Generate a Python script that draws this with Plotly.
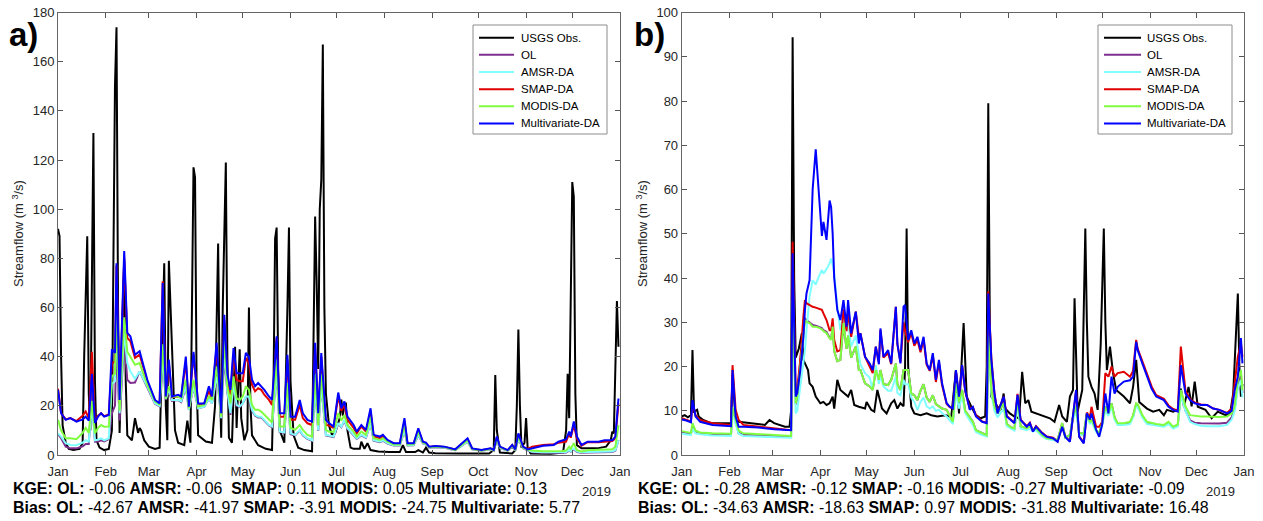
import pandas as pd
import plotly.graph_objects as go

# ---------------- Panel a data (day offsets from 2018-01-01) ----------------
obs_a_days = [0,1,2,3,5,7,10,14,16,17, 19,20,21,22,23,24,25,27,30,33,
              35,36,37,38,39,40,41,43,44,45, 48,50,52,53,54,56,59,63,66,67,
              69,70,71,72,74,76,78,82,84,86, 87,88,89,90,91,96,100,102,104,105,
              106,107,109,110,111,113,115,116,118,119, 121,123,124,125,126,130,135,139,140,141,
              142,143,144,147,149,150,151,153,156,160, 165,166,167,168,169,170,171,172,173,174,
              176,178,180,183,184,185,186,187,188,190, 192,196,197,199,201,203,208,215,222,224,
              226,232,234,237,239,241,245,260,280,283, 284,285,287,295,297,298,299,300,301,303,
              304,305,307,320,328,330,331,332,333,334, 335,336,337,340,350,356,359,360,361,362,
              363,364]
obs_a = [92,89,40,12,5,2.5,2,2.5,5,40, 89,25,10,60,131,30,6,3,2,2.5,
         10,80,150,174,60,9,30,79,30,8, 6,15,9,11,10,6,3.4,2.5,3,30,
         78,20,6,79,40,10,5,4,14,5, 60,117,113,30,8,5.5,5,20,86,30,
         7,60,119,40,7,5,44,11,43,15, 6,10,60,20,8,4,2.5,2,30,88,
         92.5,35,10,5,60,92.5,30,8,3,2, 1.5,40,97,70,35,100,112,167,60,25,
         12,8,9,15,22.5,16,21,21,10,3, 2.5,2.5,5.4,2.5,4.8,2,1.4,1.2,1.2,4,
         1.2,1.2,2,1,3,1,0.7,0.6,0.6,2, 32.5,10,1,0.6,2,20,51,20,3,5,
         15,3,0.6,0.5,1,10,33,15,60,111, 105,25,4,2.7,2.7,3.4,6,9.5,8.8,35,
         62.6,44]

sim_a_days = [0,2,5,8,12,16,18,20,22,24, 26,28,30,33,35,37,38,40,43,45,
              47,50,53,58,63,66,68,70,72,74, 78,80,83,85,88,91,95,98,100,103,
              104,106,108,110,112,114,116,118,120,122, 124,126,128,130,132,134,137,139,141,142,
              144,147,149,151,154,157,159,162,165,167, 169,171,174,176,179,182,184,186,188,192,
              194,197,200,203,205,209,211,214,218,222, 225,227,231,234,237,239,241,245,251,255,
              258,266,269,275,281,283,285,287,292,295, 297,299,302,305,308,315,322,325,328,330,
              332,333,335,337,340,344,351,355,360,362, 364]
multi_a = [26.5,17,14.3,15,13.6,14.5,15.6,14,33,13, 15.6,17,15.6,16.3,43,41.5,78,22.4,83,49.7,
           48.3,40.8,42.2,30.6,22.4,21,70,23.8,38.8,23.8, 24.5,23.8,40,19.7,42,21,21,28,23.8,45.6,
           36,17,57,33,26.5,43.5,33.3,33.3,33.3,41.5, 40,30.6,28,29.3,28,26.5,23.8,22.4,38.8,48.3,
           17,17,40.8,15.6,15.6,22.4,17,14.3,13.6,45.6, 17,41.5,14.3,13,11.6,25.4,19,21.8,15.6,12.2,
           9.5,12.2,10.2,19,8.2,7.5,8.2,6.1,4.8,4.8, 15,4.8,4.8,10.9,5.4,5,3.4,3.7,3.4,2.7,
           2.3,6.8,2.7,2,2.7,2,7.5,3.4,2,4.1, 2.3,8.8,3.4,2.3,2.7,3.8,4.1,5.4,6,6.4,
           9.5,7.5,13.6,7.5,4.1,5.4,5.4,6,6,7.5, 23]
smap_a = [27,17,14.5,15,13.8,16,17.7,15,42,13.5, 16,17,15.8,16.5,37.4,38,77,21,80,47.6,
          46.3,39.5,40.8,30,22.2,20.8,70.7,23.5,37.4,23.5, 23.8,23.5,38,19.5,41,20.4,21,26,23,44,
          34.7,16.3,55,30.6,24.5,40.8,30.6,30,30,39.5, 37.4,28.6,25.9,27.2,26.5,24.5,22.4,20.4,37.4,47.6,
          15.6,15.6,38.8,14.3,14.3,20.4,15,12.9,12.2,44, 16,40,12.2,12,11,24,18,20.4,14.3,11,
          8.8,11.6,9.5,17.7,7.5,6.8,7.5,5.8,4.6,4.6, 13.6,4.6,4.6,10.2,5.2,4.8,3.3,3.6,3.3,2.6,
          2.2,6.5,2.6,1.9,2.6,1.9,7.2,3.3,1.9,4, 2.2,8.5,3.3,2.5,3.4,4.1,4.4,5,5.2,5.5,
          8.8,7,12.2,6.8,3.8,5.2,5.2,5.4,5.7,6.8, 21]
modis_a = [14.3,10,6.8,6.8,6.4,9,11,9,22,8.8, 11,12.2,11.5,11.6,32,33,58,18,56,42,
           40,36.7,37.4,28.6,21.8,20.5,45,23,28,23.8, 23.8,23,30.6,19,30.6,19.7,20.4,23.8,22.4,36,
           30.6,15.6,48.3,28,21,32,23,22.4,23.8,28, 26.5,20.4,18.4,18.4,17.7,16.3,14.3,13.2,32,38.8,
           11.6,11.6,29.3,11,10.2,12.2,10.2,8.2,7.5,33, 12,33,10.2,9.5,9.5,17,14,16.3,12.2,9.5,
           7.5,9.5,8.2,15.6,6.8,6.1,6.8,5.4,4.3,4.3, 12.2,4.3,4.4,9.5,5,4.6,3.2,3.4,3.2,2.5,
           2.1,6,2.5,1.8,2.5,1.8,6.8,3.2,1.8,3.8, 2.1,7.5,3.1,2.1,1.8,1.5,1.4,1.6,1.6,1.8,
           3.4,2.5,4.8,2,1.4,1.9,2,2.2,2.3,3.4, 12.2]
amsr_a = [8.8,7.5,4.8,4.1,4,5,6,5.5,20,6, 6.2,6.8,6,6.8,29,30,55,17,50,37.4,
          34,31,34,27.9,21,20,40,22.8,27,22.4, 22.4,21.8,28,18.5,28,19,19.7,23,21,32,
          27.9,15,42.8,26,17,29,20.4,19.7,21,23.8, 23.8,18.4,16.3,15.6,15.6,14.3,12.2,11.6,28,34.7,
          9.5,9.2,26.5,8.8,8.2,10.2,8.2,6.8,6,28, 10,29,8.2,8,7.5,13,11.5,14.3,10.9,8.2,
          6.8,8.2,7.2,13,6,5.4,6,4.8,4,4, 10.2,4,4.1,8.2,4.8,4.4,3.1,3.3,3.1,2.4,
          2,5.5,2.4,1.7,2.4,1.7,6.1,3.1,1.7,3.5, 2,6.8,2.9,2,1.3,1.1,1,1.1,1.1,1.2,
          2,1.5,2.7,1.4,1.1,1.2,1.2,1.3,1.4,2, 6]
ol_a = [8.5,6.8,3.4,2.7,2.7,3.5,4.5,4.5,25,5.4, 5.5,6,5.5,6.5,17,20,45,14,47,30.6,
        29.3,29.5,34,27.2,20.8,19.8,40,22.5,26,22, 22.4,21.5,27.5,18.5,27.5,19,19.7,23,21,31,
        27.5,15,40,25.5,16.3,28,20,19.5,21,23.5, 23.5,18,16,15.3,15.3,14,12,11.3,27.5,34,
        9.3,9,26,8.5,8,10,8,6.6,5.8,27.5, 9.8,28.5,8,7.8,7.3,12.8,11.3,14,10.7,8,
        6.6,8,7,12.8,5.8,5.2,5.8,4.6,3.9,3.9, 10,3.9,4,8,4.7,4.3,3,3.2,3,2.3,
        2,5.4,2.3,1.7,2.3,1.7,6,3,1.7,3.4, 2,6.5,2.8,1.9,1.1,0.9,0.8,0.9,0.9,1,
        1.8,1.3,2.4,1.2,0.9,1,1,1.1,1.2,1.8, 6]

# ---------------- Panel b data ----------------
obs_b_days = [0,2,4,6,7,8,10,11,14,19, 26,32,33,35,37,45,54,57,60,67,
              70,71,72,73,74,76,78,79,81,82, 83,85,87,90,92,94,96,98,99,101,
              103,106,108,110,112,115,119,120,123,125, 127,130,133,136,138,140,142,144,145,146,
              147,149,151,155,159,162,166,171,175,178, 180,183,185,188,191,194,197,198,199,200,
              201,205,207,209,210,213,216,219,221,223, 225,227,230,235,239,242,245,247,250,252,
              254,255,257,260,261,262,263,264,266,268, 270,272,274,275,276,278,280,282,287,291,
              293,295,297,302,306,310,313,315,319,322, 324,326,329,331,333,335,340,344,348,353,
              356,358,361,362,363,364]
obs_b = [8.7,9,8.5,9,23.7,9.8,10.2,8.7,7.9,7.2, 7.2,7.2,18,8,7.5,7.2,6.8,7.9,7.2,6.4,
         6.4,10,94.4,40,22,24,27.5,21.5,20,19.2, 16.2,15.4,13.2,11.7,12,11.3,11.7,13.2,10.5,17,
         14.7,13.9,13.2,14.7,11.3,10.9,10.5,12,10.2,9.8, 14.7,10.5,9.4,11.7,12.4,10.5,11.7,11,20,51.2,
         20,10.9,9.4,9,9.4,9,8.7,9,8.7,19.2, 9.4,29.8,13.2,10.9,9,8.3,8.7,20,79.5,30,
         13.2,10.9,10.2,13.9,10.5,9.4,8.7,8.3,18.8,11.7, 12.4,9.8,9.4,8.7,8.3,7.5,11.3,8.7,7.5,13.2,
         14.7,35.4,9.8,14.7,30,51.2,30,17.7,15.4,13.9, 10.2,25.2,51.2,30,19.2,24.5,18.5,14.7,13.2,11.7,
         15.4,21.5,12,10.5,9.8,10.2,9,10.2,9.8,10.2, 15,11,15.4,11,16.6,10.9,10.2,8.3,9.8,9,
         9.4,13.9,36.5,20,13.2,16]

sim_b_days = [0,3,6,7,9,12,20,32,33,35, 37,40,50,60,71,72,74,75,77,79,
              80,81,83,85,87,89,91,92,94,96, 97,98,99,101,103,105,107,108,110,113,
              115,116,119,122,124,126,128,129,131,134, 136,139,140,142,144,145,147,149,151,153,
              155,157,159,161,163,165,167,169,172,174, 176,178,180,182,184,187,189,191,195,198,
              199,201,203,205,209,211,214,216,218,220, 224,226,228,230,234,237,241,244,247,249,
              252,254,256,258,261,263,265,266,269,271, 273,275,277,279,281,283,287,291,293,295,
              296,299,302,305,308,313,316,319,322,324, 327,330,333,337,341,345,349,354,357,359,
              361,363,364]
multi_b = [8,7.8,7.4,12.4,8.7,7.5,6.8,6.5,19.2,8.7, 6.4,6.4,6.2,5.8,5.6,45.6,13.2,14,19.2,26.7,
           32.8,36.5,39.5,60,69.1,58.4,49.5,52.7,48.6,57.5, 56,50,40,32.8,30.5,35,29,35,27.5,32.4,
           25.2,27.5,22.2,20.7,19.2,24.5,20.5,28.6,22.2,23.7, 20.7,33.5,25.2,20.7,33.5,33.9,26,28.2,25.2,26.7,
           23.7,26.7,20.7,19.2,23,17,21.5,16.2,11.7,10.9, 10.5,19.2,13.2,20.3,14.7,10.2,10.9,8.7,7.5,7.2,
           36.5,21.5,13.9,9.4,13.2,8.7,7.9,7.2,13.6,7.9, 6.4,7.2,5.3,6.4,4.9,4.1,3.8,3,6.4,4.1,
           3,8.7,14.7,4.1,2.6,9.4,8,9.4,5.7,4.1, 7,13.9,9.4,17.7,13.9,15.4,16.6,16.9,17.7,25.6,
           23.7,20.7,17.7,15,13.2,12.4,10.9,10.2,9.8,20.3, 13.9,12.4,11.7,11.3,11.3,10.5,10.2,9.4,10,14.7,
           17.7,26.4,20.7]
smap_b = [8.3,8,7.6,11.6,9,7.9,7.2,6.8,20.3,10.2, 7.9,6.8,6.4,6,5.6,48.2,14,15,21.5,31.3,
          35,34.3,33.9,33.5,33.3,33,32.8,32,30.5,28.2, 28.2,30.9,26,23.4,23.7,33,28,32.4,26.7,32.4,
          26.7,27.5,22.2,20,18.5,24.5,21,28.2,22,23, 20.5,33.5,25,21,30,28,25.5,27.5,24.7,26,
          23.2,26,20.4,19,22.5,16.5,21,15.8,11.5,10.8, 10.5,19,13,20.3,14.5,10.5,10.8,9,7.6,7.3,
          37,21.8,14,9.5,13.2,8.8,8,7.3,13.8,8, 6.5,7.3,5.4,6.5,5,4.2,3.9,3.1,6.5,4.2,
          3.1,8.8,14.5,4.2,2.8,9.6,8.5,10.9,6.4,6.4, 7.5,18.5,17.7,20,17.7,18.5,18.8,17.7,19,26,
          24,21.2,18.3,15.5,13.5,12.7,11.2,10.4,10,24.5, 14.5,12.6,11.9,11.4,11.3,10.5,10.2,9.5,10.5,16,
          22.2,25.2,22.2]
modis_b = [5.4,5.2,5,7.2,5.5,5.1,4.9,4.8,10.8,7.9, 5.5,4.9,4.7,4.5,4.3,35,11.7,13,20.7,26.7,
           30.5,30.1,29.8,29,29,28.8,28.4,28,27.5,26.4, 26,29,23.5,21.2,21.5,29.8,24,27,22,24.5,
           19.2,19.2,16.2,15.5,14.7,19.2,17,19.2,16,15.8, 17,20.7,16,14.7,19.2,19.2,19.2,13.9,13.5,12.4,
           14.5,16,13,12,13.5,11.5,11,10.5,10.2,8.7, 7.5,16.2,12,14.7,10,8.5,7.5,5.6,4.9,4.5,
           27,14.7,11,9.4,11.7,7,6.2,6,12.4,6.5, 6,6.5,5.7,6,4.5,3.8,3.6,3.4,7.2,4,
           4.5,8.7,10.9,5,4.8,9.4,7.5,8,5.6,4.9, 7.2,10.9,9.4,11.7,8.5,7.2,7.2,7.5,9,11.7,
           11.5,9,7.5,7.2,7,6.8,7.5,6.4,6.9,14.7, 11,9,8.8,8.7,8.7,8.6,8.6,8.7,9.4,11,
           17,19.2,14.7]
amsr_b = [4.8,4.7,4.5,6,4.9,4.7,4.4,4.3,10,7, 4.8,4.3,4.2,4,3.9,30,9.4,10,15.4,20.7,
          23.7,28.2,35.8,39.5,38.5,40.3,41.8,41,42,43.3, 44.4,43,41,33.5,28.2,31.3,28,30,24.5,27,
          22,20.5,18.5,17.5,14.7,20.3,16,18,15.5,14.5, 14.5,17.7,14,13.5,17,16,16,13,12,10.2,
          12,13,11,10.5,11,10,10.2,9.5,8.7,7.8, 7,14,10.5,13.5,9.5,7.8,6.8,5.2,4.5,4.2,
          25,14,10,8.5,10.5,6.5,5.8,5.5,11,6, 5.6,6,5.3,5.6,4.2,3.6,3.4,3.2,6.7,3.8,
          4.2,8,10,4.7,4.4,8.7,7,7.5,5.2,4.5, 6.8,10,8.8,11,8,6.8,6.8,7,8.5,11,
          10.8,8.5,7,6.8,6.6,6.4,7,6,6.5,13.5, 10,7.5,7,6.6,6.5,6.5,6.5,6.8,8,10,
          15,17,13]
ol_b = [5.1,5,4.8,6.5,5.2,4.9,4.6,4.5,10.5,7.4, 5,4.6,4.4,4.2,4.1,35,11.4,12.5,21.5,28,
        30.9,30.5,30,29.4,29.2,29,28.7,28.2,27.8,26.5, 26.2,29,23.5,21.2,21.5,29.5,24,27,22,24.5,
        19.2,19.2,16.2,15.5,14.7,19.2,17,19.2,16,15.8, 17,20.7,16,14.7,19.2,19.2,19.2,13.9,13.5,12.4,
        14.5,16,13,12,13.5,11.5,11,10.5,10.2,8.7, 7.5,16.2,12,14.7,10,8.5,7.5,5.6,4.9,4.5,
        27,14.7,11,9.4,11.7,7,6.2,6,12.4,6.5, 6,6.5,5.7,6,4.5,3.8,3.6,3.4,7.2,4,
        4.5,8.7,10.9,5,4.8,9.4,7.5,8,5.6,4.9, 7.2,10.9,9.4,11.7,8.5,7,7,7.3,8.8,11.5,
        11.3,8.8,7.3,7,6.8,6.6,7.3,6.2,6.7,14, 10,7.8,7.3,7.2,7.2,7.1,7.1,7.3,8.5,10.5,
        16,18,14]

series_names = ["USGS Obs.", "OL", "AMSR-DA", "SMAP-DA", "MODIS-DA", "Multivariate-DA"]
series_colors = ["#000000", "#7E2F8E", "#80FFFF", "#E00000", "#80FF40", "#0000FF"]
month_labels = ["Jan", "Feb", "Mar", "Apr", "May", "Jun", "Jul", "Aug", "Sep", "Oct", "Nov", "Dec", "Jan"]
kge_a = "<b>KGE: OL:</b> -0.06 <b>AMSR:</b> -0.06  <b>SMAP:</b> 0.11 <b>MODIS:</b> 0.05 <b>Multivariate:</b> 0.13"
bias_a = "<b>Bias: OL:</b> -42.67 <b>AMSR:</b> -41.97 <b>SMAP:</b> -3.91 <b>MODIS:</b> -24.75 <b>Multivariate:</b> 5.77"
kge_b = "<b>KGE: OL:</b> -0.28 <b>AMSR:</b> -0.12 <b>SMAP:</b> -0.16 <b>MODIS:</b> -0.27 <b>Multivariate:</b> -0.09"
bias_b = "<b>Bias: OL:</b> -34.63 <b>AMSR:</b> -18.63 <b>SMAP:</b> 0.97 <b>MODIS:</b> -31.88 <b>Multivariate:</b> 16.48"

# ---------------- Build figure ----------------
W, H = 1263, 521
FONT = "Liberation Sans, Arial, Helvetica, sans-serif"
base = pd.Timestamp("2018-01-01")


def X(px):
    return px / W


def Y(py):
    return 1 - py / H


def to_dates(days):
    return base + pd.to_timedelta(days, unit="D")


fig = go.Figure()
panels = [
    ("x", "y", obs_a_days, obs_a, sim_a_days, [ol_a, amsr_a, smap_a, modis_a, multi_a]),
    ("x2", "y2", obs_b_days, obs_b, sim_b_days, [ol_b, amsr_b, smap_b, modis_b, multi_b]),
]
for xa, ya, od, ov, sd, sims in panels:
    fig.add_trace(go.Scatter(x=to_dates(od), y=ov, mode="lines", name=series_names[0], showlegend=False,
                             line=dict(color=series_colors[0], width=2), xaxis=xa, yaxis=ya))
    sdates = to_dates(sd)
    for i, vals in enumerate(sims, start=1):
        fig.add_trace(go.Scatter(x=sdates, y=vals, mode="lines", name=series_names[i], showlegend=False,
                                 line=dict(color=series_colors[i], width=2), xaxis=xa, yaxis=ya))

ticks = pd.date_range("2018-01-01", "2019-01-01", freq="MS")
common_x = dict(type="date", range=["2018-01-01", "2019-01-01"], tickvals=ticks, ticktext=month_labels,
                ticks="inside", ticklen=5, tickcolor="#555", showline=True, linecolor="#666", linewidth=1,
                mirror="ticks", showgrid=False, zeroline=False, automargin=False,
                tickfont=dict(family=FONT, size=13, color="#262626"), ticklabelstandoff=4)
common_y = dict(ticks="inside", ticklen=5, tickcolor="#555", showline=True, linecolor="#666", linewidth=1,
                mirror="ticks", showgrid=False, zeroline=False, automargin=False,
                tickfont=dict(family=FONT, size=13, color="#262626"), domain=[Y(455), Y(12.5)])

fig.update_layout(
    width=W, height=H, margin=dict(l=0, r=0, t=0, b=0, autoexpand=False),
    paper_bgcolor="white", plot_bgcolor="white", showlegend=False,
    xaxis=dict(common_x, domain=[X(58), X(620)], anchor="y"),
    yaxis=dict(common_y, range=[0, 180], dtick=20, anchor="x"),
    xaxis2=dict(common_x, domain=[X(681.7), X(1244)], anchor="y2"),
    yaxis2=dict(common_y, range=[0, 100], dtick=10, anchor="x2"),
)

ann = []
shapes = []
# legend boxes (drawn as layout decorations)
for bx0, bx1, lx0, lx1, tx in [(473, 607, 479, 514, 520), (1098, 1232, 1104, 1141, 1146)]:
    shapes.append(dict(type="rect", xref="paper", yref="paper", x0=X(bx0), x1=X(bx1), y0=Y(134), y1=Y(25),
                       line=dict(color="#8c8c8c", width=1), fillcolor="white", layer="above"))
    for i, (nm, col) in enumerate(zip(series_names, series_colors)):
        yy = 37.7 + 17.15 * i
        shapes.append(dict(type="line", xref="paper", yref="paper", x0=X(lx0), x1=X(lx1), y0=Y(yy), y1=Y(yy),
                           line=dict(color=col, width=2), layer="above"))
        ann.append(dict(x=X(tx), y=Y(yy), xref="paper", yref="paper", xanchor="left", yanchor="middle",
                        text=nm, showarrow=False, borderpad=0,
                        font=dict(family=FONT, size=11.5, color="black")))

for xl, txt in [(8, "a)"), (633, "b)")]:
    ann.append(dict(x=X(xl), y=Y(35), xref="paper", yref="paper", xanchor="left", yanchor="middle",
                    text="<b>" + txt + "</b>", showarrow=False, borderpad=0,
                    font=dict(family=FONT, size=33, color="black")))
for xc in [18, 642]:
    ann.append(dict(x=X(xc), y=Y(234), xref="paper", yref="paper", xanchor="center", yanchor="middle",
                    text="Streamflow (m <sup>3</sup>/s)", textangle=-90, showarrow=False,
                    font=dict(family=FONT, size=13, color="#262626")))
for xc in [596, 1220]:
    ann.append(dict(x=X(xc), y=Y(491), xref="paper", yref="paper", xanchor="center", yanchor="middle",
                    text="2019", showarrow=False, font=dict(family=FONT, size=13, color="#262626")))
for xl, t1, t2, fs in [(12, kge_a, bias_a, 15.9), (637, kge_b, bias_b, 15.9)]:
    ann.append(dict(x=X(xl), y=Y(488), xref="paper", yref="paper", xanchor="left", yanchor="middle",
                    text=t1, showarrow=False, borderpad=0, font=dict(family=FONT, size=fs, color="black")))
    ann.append(dict(x=X(xl), y=Y(507), xref="paper", yref="paper", xanchor="left", yanchor="middle",
                    text=t2, showarrow=False, borderpad=0, font=dict(family=FONT, size=fs, color="black")))
fig.update_layout(annotations=ann, shapes=shapes)

# remove the page's default body margin so the figure fills the window exactly
fig.write_html("out.html", config={"displayModeBar": False, "staticPlot": True},
               post_script="document.body.style.margin='0px';document.body.style.overflow='hidden';")
